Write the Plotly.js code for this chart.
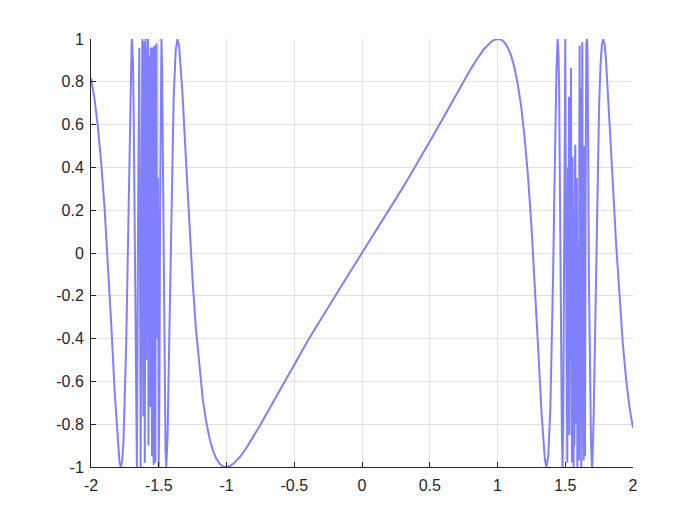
<!DOCTYPE html>
<html>
<head>
<meta charset="utf-8">
<script src="https://cdn.plot.ly/plotly-3.0.1.min.js"></script>
<style>html,body{margin:0;padding:0;background:#fff;}#chart{width:700px;height:525px;}</style>
</head>
<body>
<div id="chart"></div>
<script>
// Values, segment by segment
var xLeftOuter = [-2, -1.975, -1.95, -1.925, -1.9, -1.875, -1.85, -1.825, -1.8, -1.79, -1.78, -1.77, -1.76, -1.75, -1.74, -1.73, -1.72, -1.71, -1.7, -1.6975, -1.69, -1.685, -1.675, -1.665];
var yLeftOuter = [0.8172, 0.7235, 0.5937, 0.4247, 0.2120, -0.0464, -0.3405, -0.6514, -0.9105, -0.9750, -1.0, -0.9718, -0.8752, -0.694, -0.4198, -0.062, 0.3549, 0.7491, 0.9873, 1.0, 0.8887, 0.6516, -0.125, -0.902];

var xLeftChaos = [-1.6615, -1.6530, -1.6436, -1.6337, -1.6260, -1.6214, -1.6170, -1.6140, -1.6100, -1.6067, -1.6030, -1.5990, -1.5960, -1.5925, -1.5895, -1.5870, -1.5840, -1.5810, -1.5790, -1.5760, -1.5740, -1.5720, -1.5700, -1.5680, -1.5660, -1.5640, -1.5610, -1.5585, -1.5560, -1.5530, -1.5500, -1.5470, -1.5440, -1.5410, -1.5380, -1.5350, -1.5320, -1.5290, -1.5250, -1.5210, -1.5170, -1.5120, -1.5060, -1.5002, -1.4950, -1.4900, -1.4850, -1.4801];
var yLeftChaos = [-1.0, 0.10, 0.958, -1.0, 0.35, 1.0, -0.20, -0.764, 0.60, 0.99, -0.98, 0.45, 1.0, -0.50, 0.80, -0.50, 0.95, -0.30, 1.0, -0.90, 0.20, -0.857, 0.70, -0.45, 0.92, -0.72, 0.30, 0.96, -0.65, 0.55, -0.95, 0.96, -0.20, 0.85, -0.99, 0.40, 0.97, -0.60, -0.98, 0.70, 0.98, -0.40, 0.35, -1.0, -0.64, 0.214, 0.781, 1.0];

var xMiddle = [-1.475, -1.47, -1.465, -1.46, -1.455, -1.45, -1.4441, -1.435, -1.425, -1.42, -1.41, -1.4, -1.39, -1.375, -1.3618, -1.35, -1.325, -1.3, -1.275, -1.25, -1.225, -1.2, -1.175, -1.15, -1.125, -1.1, -1.075, -1.05, -1.025, -1.0, -0.975, -0.95, -0.9, -0.85, -0.8, -0.75, -0.7, -0.65, -0.6, -0.55, -0.5, -0.45, -0.4, -0.35, -0.3, -0.25, -0.2, -0.15, -0.1, -0.05, 0,
  0.05, 0.1, 0.15, 0.2, 0.25, 0.3, 0.35, 0.4, 0.45, 0.5, 0.55, 0.6, 0.65, 0.7, 0.75, 0.8, 0.85, 0.9, 0.95, 0.975, 1.0, 1.025, 1.05, 1.075, 1.1, 1.125, 1.15, 1.175, 1.2, 1.225, 1.25, 1.275, 1.3, 1.325, 1.35, 1.3618, 1.375, 1.39, 1.4, 1.41, 1.42, 1.425, 1.435, 1.4441, 1.45, 1.455, 1.46, 1.465, 1.47, 1.475, 1.4801, 1.485, 1.49, 1.495];
var yMiddle = [0.844, 0.446, -0.025, -0.4667, -0.761, -0.927, -1.0, -0.856, -0.494, -0.294, 0.118, 0.4664, 0.726, 0.9467, 1.0, 0.9672, 0.7469, 0.4444, 0.138, -0.1316, -0.3585, -0.5391, -0.684, -0.7878, -0.8671, -0.9234, -0.9617, -0.9852, -0.9975, -0.9999, -0.9955, -0.9852, -0.9522, -0.9080, -0.8570, -0.8027, -0.7461, -0.6891, -0.6320, -0.5754, -0.5195, -0.4645, -0.4103, -0.3570, -0.3044, -0.2526, -0.2013, -0.1505, -0.1002, -0.0500, 0,
  0.0500, 0.1002, 0.1505, 0.2013, 0.2526, 0.3044, 0.3570, 0.4103, 0.4645, 0.5195, 0.5754, 0.6320, 0.6891, 0.7461, 0.8027, 0.8570, 0.9080, 0.9522, 0.9852, 0.9955, 0.9999, 0.9975, 0.9852, 0.9617, 0.9234, 0.8671, 0.7878, 0.684, 0.5391, 0.3585, 0.1316, -0.138, -0.4444, -0.7469, -0.9672, -1.0, -0.9467, -0.726, -0.4664, -0.118, 0.294, 0.494, 0.856, 1.0, 0.927, 0.761, 0.4667, 0.025, -0.446, -0.844, -1.0, -0.781, -0.214, 0.64];

var xRightChaos = [1.5002, 1.5050, 1.5100, 1.5152, 1.5200, 1.5240, 1.5275, 1.5310, 1.5350, 1.5390, 1.5423, 1.5460, 1.5496, 1.5530, 1.5560, 1.5590, 1.5619, 1.5650, 1.5680, 1.5710, 1.5742, 1.5770, 1.5800, 1.5830, 1.5860, 1.5890, 1.5915, 1.5939, 1.5970, 1.6013, 1.6040, 1.6062, 1.6090, 1.6136, 1.6160, 1.6185, 1.6220, 1.6259, 1.6300, 1.6357, 1.6400, 1.6455, 1.6500, 1.6554, 1.6615];
var yRightChaos = [1.0, 0.20, -0.60, -0.98, 0.40, -0.30, 0.73, -0.85, 0.60, -0.50, 0.865, -0.70, -0.98, 0.45, -0.40, 0.30, -1.0, 0.20, -0.90, 0.40, 0.506, -0.80, 0.10, -0.60, 0.35, -1.0, -0.20, 0.03, -0.90, -0.97, 0.60, 0.97, -0.50, 0.77, -0.70, -1.0, 0.30, 0.985, -0.40, -0.97, 0.50, -0.95, 0.20, 0.98, 1.0];

var xRightOuter = [1.665, 1.675, 1.685, 1.69, 1.6975, 1.7, 1.71, 1.72, 1.73, 1.74, 1.75, 1.76, 1.77, 1.78, 1.79, 1.8, 1.825, 1.85, 1.875, 1.9, 1.925, 1.95, 1.975, 2];
var yRightOuter = [0.902, -0.125, -0.6516, -0.8887, -1.0, -0.9873, -0.7491, -0.3549, 0.062, 0.4198, 0.694, 0.8752, 0.9718, 1.0, 0.975, 0.9105, 0.6514, 0.3405, 0.0464, -0.212, -0.4247, -0.5937, -0.7235, -0.8172];

var xTickVals = [-2, -1.5, -1, -0.5, 0, 0.5, 1, 1.5, 2];
var xTickText = ['-2', '-1.5', '-1', '-0.5', '0', '0.5', '1', '1.5', '2'];
var yTickVals = [-1, -0.8, -0.6, -0.4, -0.2, 0, 0.2, 0.4, 0.6, 0.8, 1];
var yTickText = ['-1', '-0.8', '-0.6', '-0.4', '-0.2', '0', '0.2', '0.4', '0.6', '0.8', '1'];

var xs = [].concat(xLeftOuter, xLeftChaos, xMiddle, xRightChaos, xRightOuter);
var ys = [].concat(yLeftOuter, yLeftChaos, yMiddle, yRightChaos, yRightOuter);

var trace = {
  x: xs, y: ys, type: 'scatter', mode: 'lines',
  line: {color: '#8080ff', width: 2},
  hoverinfo: 'skip'
};

var axisCommon = {
  showline: true, linecolor: '#262626', linewidth: 1,
  ticks: 'inside', ticklen: 5, tickwidth: 1, tickcolor: '#262626',
  showgrid: true, gridcolor: '#e1e1e1', gridwidth: 1,
  zeroline: false,
  tickfont: {family: '"Liberation Sans", Arial, sans-serif', size: 16, color: '#262626'}
};

var layout = {
  width: 700, height: 525,
  margin: {l: 91, r: 66.5, t: 39.4, b: 57.75, pad: 0},
  paper_bgcolor: '#ffffff', plot_bgcolor: '#ffffff',
  showlegend: false,
  xaxis: Object.assign({}, axisCommon, {range: [-2, 2], tickmode: 'array', tickvals: xTickVals, ticktext: xTickText, ticklabelstandoff: 4}),
  yaxis: Object.assign({}, axisCommon, {range: [-1, 1], tickmode: 'array', tickvals: yTickVals, ticktext: yTickText, ticklabelstandoff: 3})
};

Plotly.newPlot('chart', [trace], layout, {staticPlot: true, displayModeBar: false});
</script>
</body>
</html>
